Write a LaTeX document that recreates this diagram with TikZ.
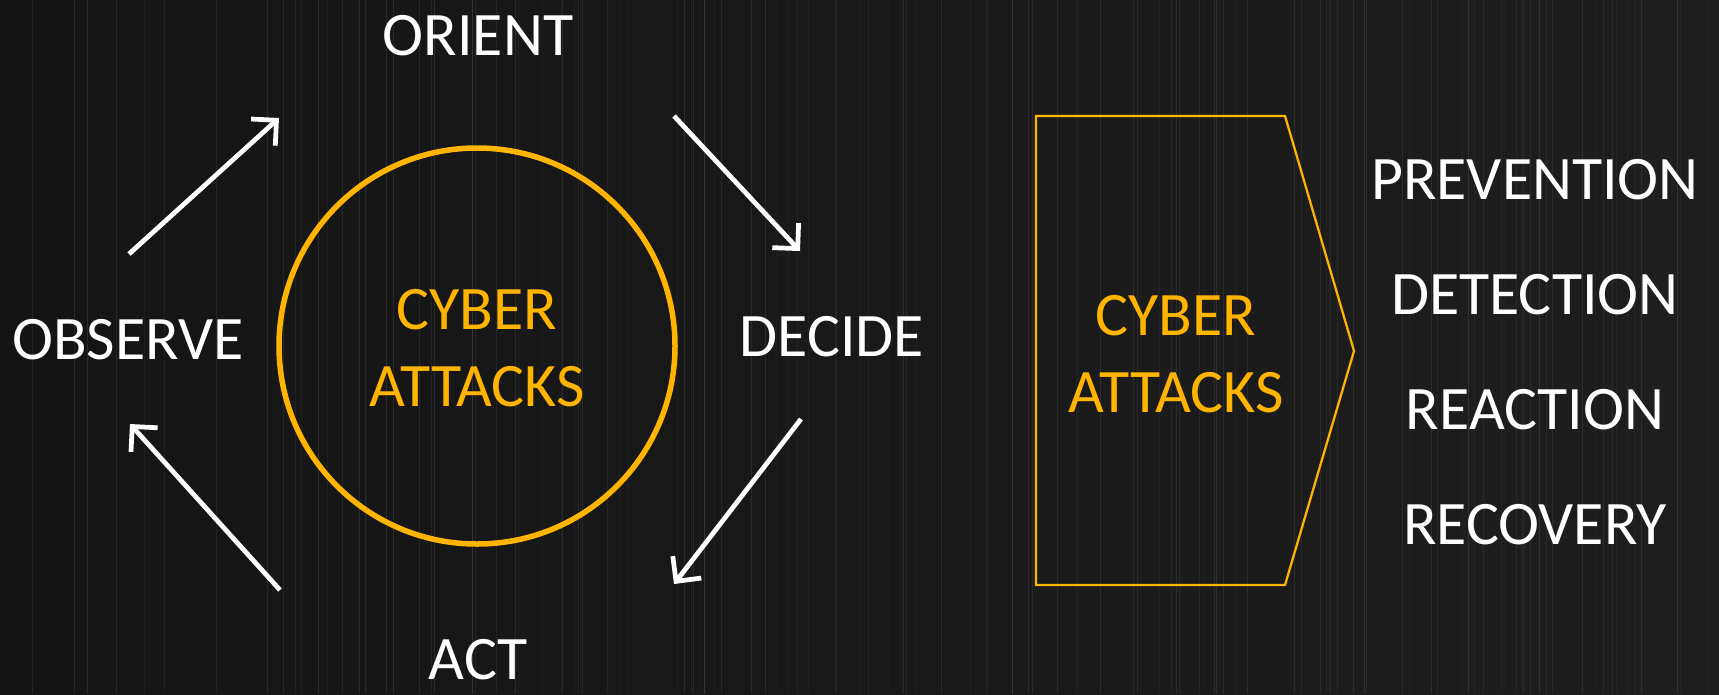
\documentclass[tikz,border=0pt]{standalone}
\usepackage{fontspec}
\setmainfont{Carlito}
\usetikzlibrary{arrows.meta}
\definecolor{gold}{RGB}{255,180,0}
\definecolor{board}{RGB}{40,40,40}
\tikzset{
  stage/.style={text=white, inner sep=0pt, font=\fontsize{35.2}{43.8}\selectfont},
  threat/.style={text=gold, inner sep=0pt, align=center, font=\fontsize{35.2}{43.8}\selectfont},
  turn/.style={white, line width=0.095cm, -{Straight Barb[length=0.36cm, width=0.72cm]}}
}
\begin{document}
\begin{tikzpicture}[x=0.02cm, y=-0.02cm]
\useasboundingbox (0,0) rectangle (1719,694);
\clip (0,0) rectangle (1719,694);
\shade[left color=board!50!black, middle color=board, right color=board!75!black]
  (0,0) rectangle (1719,694);
% grain
\pgfmathsetseed{11}
\foreach \i in {1,...,140}{
  \pgfmathsetmacro\xx{random(0,1719)}
  \pgfmathsetmacro\gg{random(2,9)}
  \draw[white, opacity=0.01*\gg, line width=0.02cm] (\xx,0) -- (\xx,694);
}
% loop
\node[stage] (observe) at (128,340) {OBSERVE};
\node[stage] (orient) at (478,36) {ORIENT};
\node[stage] (decide) at (832,337) {DECIDE};
\node[stage] (act) at (478,660) {ACT};
\draw[gold, line width=0.11cm] (477,346) circle (198);
\node[threat] (cyber) at (477,348) {CYBER\\ATTACKS};
\coordinate (a1) at (129,254); \coordinate (b1) at (279,118);
\coordinate (a2) at (674,116); \coordinate (b2) at (800,251);
\coordinate (a3) at (801,419); \coordinate (b3) at (674,584);
\coordinate (a4) at (280,590); \coordinate (b4) at (130,424);
\path[turn]
(a1) edge (b1)
(a2) edge (b2)
(a3) edge (b3)
(a4) edge (b4);
% chevron
\draw[gold, line width=0.045cm] (1036,116) -- (1285,116) -- (1354,351)
  -- (1285,585) -- (1036,585) -- cycle;
\node[threat] (attacks) at (1176,354) {CYBER\\ATTACKS};
\node[stage] (prevention) at (1535,180) {PREVENTION};
\node[stage] (detection) at (1535,295) {DETECTION};
\node[stage] (reaction) at (1535,410) {REACTION};
\node[stage] (recovery) at (1535,525) {RECOVERY};
\end{tikzpicture}
\end{document}
